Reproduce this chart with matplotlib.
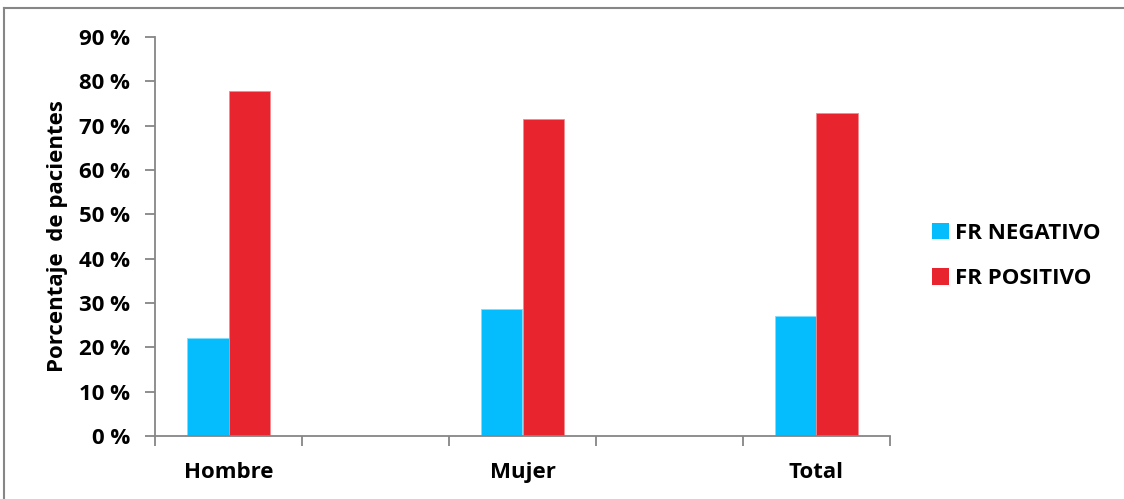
import matplotlib
matplotlib.use("Agg")
import matplotlib.pyplot as plt
from matplotlib.lines import Line2D
from matplotlib.patches import Patch

# Categories (empty slots keep the wide spacing between groups)
categories = ["Hombre", "", "Mujer", "", "Total"]
fr_negativo = [22.1, None, 28.6, None, 27.1]
fr_positivo = [77.9, None, 71.4, None, 72.9]
series_names = ["FR NEGATIVO", "FR POSITIVO"]
y_ticks = [0, 10, 20, 30, 40, 50, 60, 70, 80, 90]

blue = "#05BDFD"
red = "#E8242E"
axis_grey = "#868686"
fs = 16

plt.rcParams["font.family"] = ["Open Sans", "DejaVu Sans"]
plt.rcParams["font.weight"] = "bold"

fig = plt.figure(figsize=(11.24, 4.99), dpi=100)
W, H = 1124, 499
ax = fig.add_axes([155 / W, (H - 436) / H, (890 - 155) / W, (436 - 37) / H])

width = 0.284
for i, (neg, pos) in enumerate(zip(fr_negativo, fr_positivo)):
    if neg is None:
        continue
    ax.bar(i - width / 2, neg, width, color=blue, edgecolor="#7FDDFF", linewidth=0.6)
    ax.bar(i + width / 2, pos, width, color=red, edgecolor="#F28A90", linewidth=0.6)

ax.set_xlim(-0.5, len(categories) - 0.5)
ax.set_ylim(0, 90)
ax.set_yticks(y_ticks)
ax.set_yticklabels([f"{v} %" for v in y_ticks], fontsize=fs, fontweight="bold")

# Category ticks sit on the boundaries, labels at the centres
ax.set_xticks([x - 0.5 for x in range(len(categories) + 1)])
ax.set_xticklabels([])
for i, name in enumerate(categories):
    if name:
        ax.text(i, -8.3, name, ha="center", va="center", fontsize=fs,
                fontweight="bold", transform=ax.transData)

for side in ("top", "right"):
    ax.spines[side].set_visible(False)
for side in ("left", "bottom"):
    ax.spines[side].set_color(axis_grey)
    ax.spines[side].set_linewidth(1.3)
ax.tick_params(axis="both", direction="out", length=7, width=1.3, color=axis_grey)
ax.tick_params(axis="y", pad=11)

ax.set_ylabel("Porcentaje  de pacientes", fontsize=fs, fontweight="bold", labelpad=8)

handles = [Patch(facecolor=blue, edgecolor="none"), Patch(facecolor=red, edgecolor="none")]
fig.legend(handles, series_names, loc="center left", bbox_to_anchor=(912 / W, 1 - 256 / H),
           frameon=False, handlelength=0.75, handleheight=0.75,
           handletextpad=0.3, labelspacing=1.1, prop={"weight": "bold", "size": 16})

# Outer frame lines (top and left edges)
fig.add_artist(Line2D([4 / W, 1], [1 - 8 / H, 1 - 8 / H], color=axis_grey, lw=1.5,
                      transform=fig.transFigure))
fig.add_artist(Line2D([4 / W, 4 / W], [0, 1 - 8 / H], color=axis_grey, lw=1.5,
                      transform=fig.transFigure))

fig.savefig("out.png", dpi=100, facecolor="white")
